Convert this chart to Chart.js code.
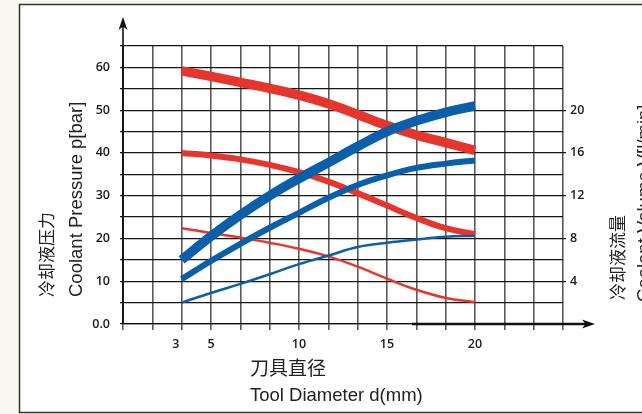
<!DOCTYPE html>
<html>
<head>
<meta charset="utf-8">
<script src="https://cdn.jsdelivr.net/npm/chart.js@4.4.0/dist/chart.umd.min.js"></script>
<style>
  html, body { margin: 0; padding: 0; background: #f8f7ef; }
  #c { display: block; }
</style>
</head>
<body>
<canvas id="c" width="642" height="414"></canvas>
<script>
// tool diameter d (mm), read at the grid columns
var diameters = [3.33, 5, 6.67, 8.33, 10, 11.67, 13.33, 15, 16.67, 18.33, 20];

// coolant pressure p [bar] (left axis)
var pressureHigh = [59.2, 57.9, 56.5, 55.1, 53.5, 51.5, 49.0, 46.4, 44.2, 42.4, 40.6];
var pressureMid  = [40.0, 39.4, 38.5, 37.2, 35.5, 33.3, 30.6, 27.7, 24.8, 22.4, 21.0];
var pressureLow  = [22.4, 21.3, 20.2, 19.0, 17.6, 15.8, 13.4, 10.6, 8.0, 6.1, 5.1];

// coolant volume V [l/min] (right axis)
var volumeHigh = [6.0, 8.2, 10.2, 12.0, 13.6, 15.1, 16.6, 18.0, 19.0, 19.8, 20.4];
var volumeMid  = [4.2, 5.9, 7.5, 9.0, 10.4, 11.8, 13.0, 13.9, 14.6, 15.0, 15.3];
var volumeLow  = [2.0, 2.9, 3.75, 4.65, 5.6, 6.4, 7.2, 7.6, 7.9, 8.15, 8.25];

// tick labels
var xTickLabels = [3, 5, 10, 15, 20];
var leftTickLabels = [0, 10, 20, 30, 40, 50, 60];
var rightTickLabels = [4, 8, 12, 16, 20];
var xGridStep = 5 / 3;

var RED = '#e5352c';
var BLUE = '#0a5fab';

function pts(ys) {
  return diameters.map(function(x, i) { return {x: x, y: ys[i]}; });
}

function line(data, color, width, axis) {
  return {
    data: pts(data),
    yAxisID: axis,
    borderColor: color,
    borderWidth: width,
    borderCapStyle: 'butt',
    pointRadius: 0,
    tension: 0.4,
    fill: false
  };
}

function onGrid(v) {
  var k = v / xGridStep;
  return Math.abs(k - Math.round(k)) < 1e-6;
}

// arrow head with a small notch, pointing along (dx, dy)
function arrowHead(ctx, x, y, dx, dy) {
  var len = 13, half = 4.5, notch = 3.5;
  var px = -dy, py = dx;
  ctx.beginPath();
  ctx.moveTo(x, y);
  ctx.lineTo(x - dx * len + px * half, y - dy * len + py * half);
  ctx.lineTo(x - dx * (len - notch), y - dy * (len - notch));
  ctx.lineTo(x - dx * len - px * half, y - dy * len - py * half);
  ctx.closePath();
  ctx.fill();
}

function vText(ctx, str, x, y, font, baseline) {
  ctx.save();
  ctx.translate(x, y);
  ctx.rotate(-Math.PI / 2);
  ctx.font = font;
  ctx.textAlign = 'left';
  ctx.textBaseline = baseline;
  ctx.fillText(str, 0, 0);
  ctx.restore();
}

var framePlugin = {
  id: 'frame',
  beforeDraw: function(chart) {
    var ctx = chart.ctx;
    ctx.save();
    ctx.fillStyle = '#f8f7ef';
    ctx.fillRect(0, 0, chart.width, chart.height);
    ctx.fillStyle = '#ffffff';
    ctx.fillRect(19.5, 4.5, 640, 408);
    ctx.strokeStyle = '#333';
    ctx.lineWidth = 1.5;
    ctx.strokeRect(19.5, 4.5, 640, 408);
    ctx.restore();
  },
  afterDraw: function(chart) {
    var ctx = chart.ctx, a = chart.chartArea;
    ctx.save();
    ctx.strokeStyle = '#111';
    ctx.fillStyle = '#111';
    // vertical axis with arrow
    ctx.lineWidth = 1.6;
    ctx.beginPath();
    ctx.moveTo(a.left, a.bottom);
    ctx.lineTo(a.left, 24);
    ctx.stroke();
    arrowHead(ctx, a.left, 17, 0, -1);
    // heavy horizontal axis segment with arrow
    ctx.lineWidth = 2.5;
    ctx.beginPath();
    ctx.moveTo(412, a.bottom);
    ctx.lineTo(588, a.bottom);
    ctx.stroke();
    arrowHead(ctx, 595, a.bottom, 1, 0);

    // axis titles
    ctx.fillStyle = '#222';
    var cjk = '17px "Noto Sans CJK SC"';
    var lat = '18.5px "Liberation Sans", Arial, sans-serif';
    vText(ctx, '冷却液压力', 47, 297, cjk, 'middle');
    vText(ctx, 'Coolant Pressure p[bar]', 82, 297, lat, 'alphabetic');
    vText(ctx, '冷却液流量', 618, 300, cjk, 'middle');
    vText(ctx, 'Coolant Volume V[l/min]', 650, 302, lat, 'alphabetic');

    ctx.textAlign = 'left';
    ctx.textBaseline = 'middle';
    ctx.font = '19px "Noto Sans CJK SC"';
    ctx.fillText('刀具直径', 250, 368);
    ctx.font = lat;
    ctx.fillText('Tool Diameter d(mm)', 250, 396);
    ctx.restore();
  }
};

var tickFont = { family: '"Open Sans", sans-serif', size: 12.5, weight: '600' };

new Chart(document.getElementById('c'), {
  type: 'line',
  data: {
    datasets: [
      line(volumeHigh, BLUE, 9.5, 'y1'),
      line(volumeMid, BLUE, 6, 'y1'),
      line(volumeLow, BLUE, 2.5, 'y1'),
      line(pressureHigh, RED, 9.5, 'y'),
      line(pressureMid, RED, 6, 'y'),
      line(pressureLow, RED, 2.5, 'y')
    ]
  },
  options: {
    responsive: false,
    animation: false,
    devicePixelRatio: 1,
    layout: { padding: { left: 83, right: 39, top: 46, bottom: 60 } },
    plugins: { legend: { display: false }, tooltip: { enabled: false } },
    scales: {
      x: {
        type: 'linear',
        min: 0,
        max: 25,
        afterBuildTicks: function(axis) {
          var t = [];
          for (var i = 0; i <= 15; i++) t.push({ value: i * xGridStep });
          t.push({ value: xTickLabels[0] });
          t.sort(function(p, q) { return p.value - q.value; });
          axis.ticks = t;
        },
        afterFit: function(s) { s.height = 30; },
        ticks: {
          autoSkip: false,
          maxRotation: 0,
          padding: 7,
          color: '#1a1a1a',
          font: tickFont,
          callback: function(v) {
            for (var i = 0; i < xTickLabels.length; i++) {
              if (Math.abs(xTickLabels[i] - v) < 1e-6) return String(xTickLabels[i]);
            }
            return '';
          }
        },
        grid: {
          color: function(c) { return onGrid(c.tick.value) ? '#5a5a5a' : 'rgba(0,0,0,0)'; },
          lineWidth: 1.6,
          tickLength: 6
        },
        border: { color: '#111', width: 1.2 }
      },
      y: {
        position: 'left',
        min: 0,
        max: 65,
        afterFit: function(s) { s.width = 40; },
        ticks: {
          stepSize: 5,
          padding: 10,
          color: '#1a1a1a',
          font: tickFont,
          callback: function(v) {
            if (leftTickLabels.indexOf(v) < 0) return '';
            return v === 0 ? '0.0' : String(v);
          }
        },
        grid: { color: '#151515', lineWidth: 1.2, tickLength: 3 },
        border: { color: '#111', width: 1.6 }
      },
      y1: {
        position: 'right',
        min: 0,
        max: 26,
        afterBuildTicks: function(axis) {
          axis.ticks = rightTickLabels.map(function(v) { return { value: v }; });
        },
        afterFit: function(s) { s.width = 40; },
        ticks: { padding: 4, color: '#1a1a1a', font: tickFont },
        grid: { drawOnChartArea: false, color: '#151515', lineWidth: 1.2, tickLength: 3 },
        border: { display: false }
      }
    }
  },
  plugins: [framePlugin]
});
</script>
</body>
</html>
